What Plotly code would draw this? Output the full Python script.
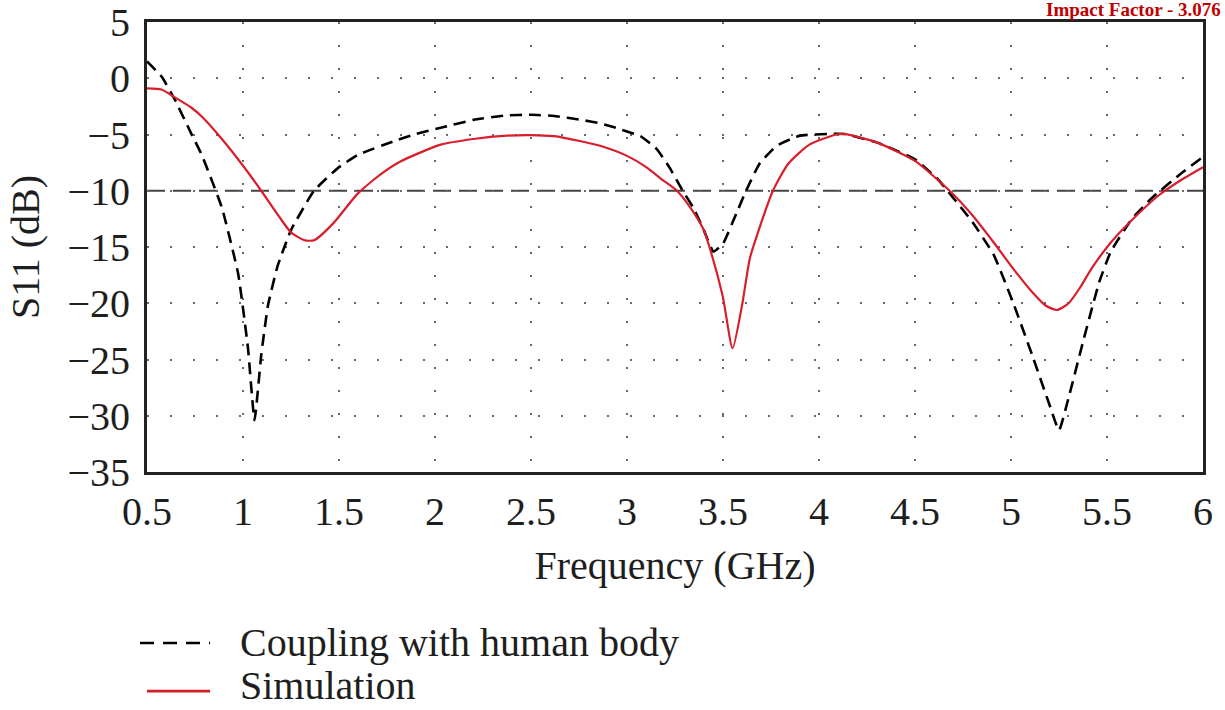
import plotly.graph_objects as go

# ---- data ----
freq_coupling = [0.5, 0.576, 0.645, 0.73, 0.785, 0.89, 0.975, 1.026, 1.06,
                 1.095, 1.13, 1.18, 1.25, 1.37, 1.5, 1.6, 1.785, 1.9, 2.03,
                 2.2, 2.375, 2.5, 2.62, 2.76, 2.86, 2.97, 3.07, 3.155, 3.22,
                 3.29, 3.345, 3.4, 3.45, 3.5, 3.57, 3.62, 3.69, 3.78, 3.9,
                 4.05, 4.13, 4.3, 4.5, 4.62, 4.8, 4.91, 5.01, 5.11, 5.2,
                 5.25, 5.3, 5.38, 5.46, 5.52, 5.63, 5.73, 5.89, 6.0]
s11_coupling = [1.5, 0.15, -1.9, -4.9, -6.8, -11.5, -17.4, -24.0, -30.4,
                -24.6, -20.2, -16.7, -13.5, -10.0, -7.9, -6.8, -5.6, -4.95, -4.4,
                -3.7, -3.3, -3.25, -3.35, -3.7, -4.0, -4.56, -5.15, -6.3, -7.9,
                -10.0, -11.5, -13.5, -15.4, -14.7, -12.0, -10.0, -7.6, -6.0, -5.1,
                -4.95, -4.95, -5.7, -7.2, -9.0, -12.8, -15.7, -19.9, -24.6, -29.0,
                -31.3, -28.4, -23.1, -18.1, -15.4, -12.5, -10.7, -8.4, -7.0]

freq_sim = [0.5, 0.576, 0.645, 0.73, 0.785, 0.89, 1.01, 1.095, 1.18, 1.25,
            1.32, 1.37, 1.47, 1.595, 1.72, 1.82, 2.03, 2.2, 2.375, 2.5,
            2.62, 2.76, 2.86, 3.0, 3.1, 3.19, 3.26, 3.33, 3.4, 3.45,
            3.5, 3.55, 3.6, 3.64, 3.69, 3.76, 3.84, 3.95, 4.09, 4.13,
            4.3, 4.5, 4.68, 4.8, 4.91, 5.01, 5.11, 5.18, 5.24, 5.30,
            5.36, 5.42, 5.52, 5.63, 5.77, 5.89, 6.0]
s11_sim = [-0.9, -1.0, -1.7, -2.6, -3.4, -5.4, -8.0, -10.0, -12.1, -13.7,
           -14.4, -14.4, -12.9, -10.3, -8.5, -7.4, -5.9, -5.4, -5.1, -5.05,
           -5.15, -5.6, -6.0, -6.9, -7.9, -9.1, -10.0, -11.5, -13.5, -16.2,
           -19.5, -24.0, -20.1, -16.0, -13.3, -10.0, -7.6, -5.9, -5.0, -4.95,
           -5.7, -7.35, -10.0, -12.2, -14.6, -16.9, -19.0, -20.2, -20.6, -20.0,
           -18.6, -16.9, -14.6, -12.6, -10.4, -9.0, -7.9]

x_ticks = [0.5, 1, 1.5, 2, 2.5, 3, 3.5, 4, 4.5, 5, 5.5, 6]
x_tick_labels = ["0.5", "1", "1.5", "2", "2.5", "3", "3.5", "4", "4.5", "5", "5.5", "6"]
y_ticks = [5, 0, -5, -10, -15, -20, -25, -30, -35]
threshold_db = -10

series_names = ["Coupling with human body", "Simulation"]
x_title = "Frequency (GHz)"
y_title = "S11 (dB)"
watermark = "Impact Factor - 3.076"

FONT = "Liberation Serif"
RED = "#d81e2a"
TXT = "#1e1e1e"

fig = go.Figure()

fig.add_trace(go.Scatter(
    x=freq_coupling, y=s11_coupling, mode="lines", name=series_names[0],
    line=dict(color="black", width=2.6, dash="12px,7px", shape="spline", smoothing=0.4),
    showlegend=False))
fig.add_trace(go.Scatter(
    x=freq_sim, y=s11_sim, mode="lines", name=series_names[1],
    line=dict(color=RED, width=2.2, shape="spline", smoothing=0.6),
    showlegend=False))

# -10 dB reference line
fig.add_shape(type="line", xref="paper", x0=0, x1=1, yref="y", y0=threshold_db, y1=threshold_db,
              line=dict(color="#444444", width=2, dash="18px,8px"), layer="below")

axis_common = dict(
    showline=True, linecolor="#222222", linewidth=3, mirror=True,
    showgrid=True, gridcolor="#6a6a6a", gridwidth=2, griddash="2px,21px",
    zeroline=False, ticks="", automargin=False, ticklabeloverflow="allow",
    tickfont=dict(family=FONT, size=40, color=TXT),
)

fig.update_xaxes(range=[0.5, 6], tickvals=x_ticks, ticktext=x_tick_labels,
                 title=dict(text=x_title, font=dict(family=FONT, size=40, color=TXT), standoff=18),
                 ticklabelstandoff=2, **axis_common)
fig.update_yaxes(range=[-35, 5], tickvals=y_ticks,
                 title=dict(text=y_title, font=dict(family=FONT, size=40, color=TXT), standoff=16),
                 ticklabelstandoff=6, **axis_common)

# manual legend (paper coordinates)
fig.add_shape(type="line", xref="paper", yref="paper", x0=-0.0066, x1=0.0597, y0=-0.38, y1=-0.38,
              line=dict(color="black", width=2.6, dash="14px,9px"))
fig.add_shape(type="line", xref="paper", yref="paper", x0=0.0, x1=0.0597, y0=-0.487, y1=-0.487,
              line=dict(color=RED, width=2.6))
fig.add_annotation(xref="paper", yref="paper", x=0.0862, y=-0.378, text=series_names[0],
                   showarrow=False, xanchor="left", yanchor="middle",
                   font=dict(family=FONT, size=40, color=TXT))
fig.add_annotation(xref="paper", yref="paper", x=0.0862, y=-0.474, text=series_names[1],
                   showarrow=False, xanchor="left", yanchor="middle",
                   font=dict(family=FONT, size=40, color=TXT))

# watermark at top right
fig.add_annotation(xref="paper", yref="paper", x=1.019, y=1.027, text=watermark,
                   showarrow=False, xanchor="right", yanchor="middle",
                   font=dict(family=FONT, size=19, color="#c00000", weight="bold"))

fig.update_layout(
    width=1225, height=710,
    margin=dict(l=147, r=22, t=22, b=238),
    paper_bgcolor="white", plot_bgcolor="white",
    font=dict(family=FONT),
)

# remove the page's default body margin so the figure sits at the window's top-left
fig.write_html("out.html",
               config={"displayModeBar": False},
               post_script="document.body.style.margin='0px';document.body.style.overflow='hidden';")
